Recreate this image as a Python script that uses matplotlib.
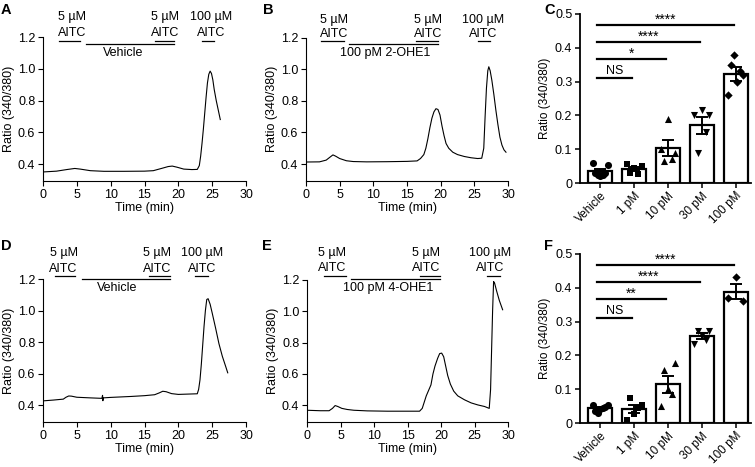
import matplotlib
matplotlib.use("Agg")
import matplotlib.pyplot as plt
import numpy as np

plt.rcParams['font.family'] = ['Liberation Sans Narrow', 'Liberation Sans', 'DejaVu Sans']
plt.rcParams['font.size'] = 8

# --- calcium traces (time in min, ratio 340/380) ---
a_t = [0, 2, 3.5, 4.7, 5.5, 7, 9, 12, 15, 16.3, 17.5, 18.5, 19.1, 19.8, 20.8, 22, 22.8,
       23.1, 23.3, 23.5, 23.7, 23.9, 24.1, 24.3, 24.5, 24.7, 24.9, 25.1, 25.3, 25.6, 25.9, 26.2]
a_r = [0.35, 0.355, 0.365, 0.372, 0.368, 0.358, 0.354, 0.354, 0.355, 0.358, 0.372, 0.384, 0.387,
       0.38, 0.368, 0.365, 0.366, 0.39, 0.45, 0.53, 0.62, 0.72, 0.82, 0.91, 0.965, 0.985, 0.97,
       0.93, 0.87, 0.8, 0.74, 0.68]

b_t = [0, 2, 3, 3.6, 4.0, 4.4, 5, 6, 7, 9, 12, 15, 16.5, 17, 17.5, 17.8, 18.1, 18.4, 18.7, 19.0,
       19.3, 19.6, 19.9, 20.2, 20.5, 20.8, 21.2, 21.8, 22.5, 23.5, 24.5, 25.5, 26.1, 26.4, 26.6,
       26.8, 27.0, 27.15, 27.35, 27.6, 27.9, 28.2, 28.5, 28.8, 29.1, 29.4, 29.7]
b_r = [0.413, 0.414, 0.425, 0.445, 0.458, 0.45, 0.435, 0.421, 0.416, 0.414, 0.415, 0.417, 0.42,
       0.435, 0.46, 0.5, 0.56, 0.63, 0.69, 0.73, 0.75, 0.745, 0.71, 0.64, 0.58, 0.53, 0.5, 0.475,
       0.46, 0.448, 0.44, 0.435, 0.437, 0.5, 0.7, 0.88, 0.99, 1.015, 0.99, 0.93, 0.84, 0.74, 0.65,
       0.57, 0.52, 0.49, 0.475]

d_t = [0, 1.5, 3.0, 3.4, 3.8, 4.2, 5, 7, 8.7, 8.8, 8.85, 8.9, 10, 13, 15, 16.5, 17.2, 17.7, 18.2,
       19, 20, 22.8, 23.0, 23.2, 23.4, 23.6, 23.8, 24.0, 24.2, 24.4, 24.7, 25, 25.5, 26, 26.5, 27, 27.3]
d_r = [0.427, 0.432, 0.438, 0.45, 0.458, 0.457, 0.45, 0.446, 0.443, 0.462, 0.428, 0.446, 0.449,
       0.455, 0.46, 0.466, 0.478, 0.488, 0.485, 0.473, 0.468, 0.472, 0.5, 0.56, 0.66, 0.78, 0.9,
       1.0, 1.07, 1.075, 1.04, 0.985, 0.89, 0.79, 0.71, 0.645, 0.605]

e_t = [0, 2, 3.3, 3.8, 4.2, 4.6, 5.2, 6, 7, 9, 12, 15, 16.8, 17.2, 17.5, 17.8, 18.1, 18.5, 18.8,
       19.1, 19.5, 19.8, 20.1, 20.4, 20.7, 21.0, 21.4, 21.9, 22.5, 23.5, 24.5, 25.5, 26.5, 27.2,
       27.4, 27.55, 27.7, 27.85, 28.0, 28.3, 28.7, 29.2]
e_r = [0.368, 0.365, 0.365, 0.38, 0.398, 0.392, 0.38, 0.373, 0.368, 0.364, 0.362, 0.362, 0.362,
       0.38, 0.42, 0.46, 0.49, 0.53, 0.6, 0.65, 0.7, 0.73, 0.733, 0.71, 0.65, 0.59, 0.535, 0.49,
       0.46, 0.435, 0.415, 0.402, 0.392, 0.38, 0.5, 0.75, 1.0, 1.19, 1.18, 1.13, 1.07, 1.01]

# --- dose response bars ---
groups = ['Vehicle', '1 pM', '10 pM', '30 pM', '100 pM']
c_mean = [0.036, 0.041, 0.103, 0.171, 0.322]
c_sem = [0.004, 0.005, 0.024, 0.025, 0.021]
c_pts = [[0.06, 0.03, 0.025, 0.022, 0.025, 0.03, 0.052],
         [0.055, 0.03, 0.045, 0.028, 0.05],
         [0.1, 0.065, 0.19, 0.072, 0.088],
         [0.2, 0.09, 0.215, 0.15, 0.2],
         [0.26, 0.35, 0.38, 0.3, 0.33, 0.32]]
c_sig = ['NS', '*', '****', '****']

f_mean = [0.043, 0.042, 0.114, 0.257, 0.388]
f_sem = [0.003, 0.011, 0.024, 0.008, 0.022]
f_pts = [[0.052, 0.035, 0.03, 0.04, 0.045, 0.048, 0.052],
         [0.01, 0.073, 0.028, 0.045, 0.053],
         [0.05, 0.158, 0.1, 0.085, 0.178],
         [0.235, 0.272, 0.26, 0.245, 0.272],
         [0.37, 0.432, 0.362]]
f_sig = ['NS', '**', '****', '****']
sig_y = [0.31, 0.366, 0.416, 0.467]

markers = ['o', 's', '^', 'v', 'D']
msizes = [26, 24, 26, 26, 18]

fig = plt.figure(figsize=(7.55, 4.67), dpi=100)
W, H = 755, 467
FS = 9


def rect(l, t, r, b):
    return [l / W, 1 - b / H, (r - l) / W, (b - t) / H]


def trace(ax, t, r, notes, drug):
    ax.plot(t, r, color='black', lw=0.8)
    ax.set_xlim(0, 30)
    ax.set_ylim(0.293, 1.2)
    ax.set_xticks(range(0, 31, 5))
    ax.set_yticks([0.4, 0.6, 0.8, 1.0, 1.2])
    ax.set_yticklabels(['0.4', '0.6', '0.8', '1.0', '1.2'])
    for s in ['top', 'right']:
        ax.spines[s].set_visible(False)
    for s in ['left', 'bottom']:
        ax.spines[s].set_linewidth(0.8)
    ax.tick_params(direction='out', length=3.5, width=0.8, labelsize=FS, pad=2)
    ax.set_xlabel('Time (min)', fontsize=FS, labelpad=1)
    ax.set_ylabel('Ratio (340/380)', fontsize=FS, labelpad=2)
    # stimulus bars
    for xc, x0, x1, y_top, y_bot, y_line, top in notes:
        ax.text(xc, y_top, top, ha='center', va='center', fontsize=FS, clip_on=False)
        ax.text(xc, y_bot, 'AITC', ha='center', va='center', fontsize=FS, clip_on=False)
        ax.plot([x0, x1], [y_line, y_line], color='black', lw=0.9, clip_on=False)
    name, xc, x0, x1, y_line, y_text = drug
    ax.plot([x0, x1], [y_line, y_line], color='black', lw=0.9, clip_on=False)
    ax.text(xc, y_text, name, ha='center', va='center', fontsize=FS, clip_on=False)


def bars(ax, mean, sem, pts, sig):
    x = np.arange(len(groups))
    ax.bar(x, mean, width=0.7, color='white', edgecolor='black', linewidth=1.6, zorder=2)
    for i, vals in enumerate(pts):
        n = len(vals)
        off = np.linspace(-0.22, 0.22, n) if n > 1 else [0]
        ax.scatter(x[i] + np.asarray(off), vals, marker=markers[i], s=msizes[i], color='black',
                   zorder=3, linewidths=0)
    ax.errorbar(x, mean, yerr=sem, fmt='none', ecolor='black', elinewidth=1.4,
                capsize=4, capthick=1.4, zorder=4)
    for k, (lab, y) in enumerate(zip(sig, sig_y)):
        x1 = k + 1 - 0.05
        ax.plot([-0.1, x1], [y, y], color='black', lw=1.6)
        xc = (-0.1 + x1) / 2
        if lab == 'NS':
            ax.text(xc, y + 0.022, lab, ha='center', va='center', fontsize=FS)
        else:
            ax.text(xc, y + 0.004, lab, ha='center', va='baseline', fontsize=10,
                    family='Liberation Sans')
    ax.set_xlim(-0.6, 4.45)
    ax.set_ylim(0, 0.5)
    ax.set_yticks([0, 0.1, 0.2, 0.3, 0.4, 0.5])
    ax.set_yticklabels(['0', '0.1', '0.2', '0.3', '0.4', '0.5'])
    ax.set_xticks(x)
    ax.set_xticklabels(groups, rotation=45, ha='right', rotation_mode='anchor', fontsize=8.5)
    for s in ['top', 'right']:
        ax.spines[s].set_visible(False)
    for s in ['left', 'bottom']:
        ax.spines[s].set_linewidth(1.3)
    ax.tick_params(direction='out', length=3.5, width=1.1, labelsize=FS, pad=2)
    ax.tick_params(axis='x', labelsize=8.5, pad=1.5)
    ax.set_ylabel('Ratio (340/380)', fontsize=8.5, labelpad=3)


axA = fig.add_axes(rect(43, 37, 246, 181))
trace(axA, a_t, a_r,
      [(4.3, 2.4, 5.4, 1.326, 1.225, 1.175, '5 µM'),
       (18.05, 16.5, 19.4, 1.326, 1.225, 1.175, '5 µM'),
       (24.8, 23.5, 25.3, 1.326, 1.225, 1.175, '100 µM')],
      ('Vehicle', 11.9, 6.4, 19.4, 1.156, 1.10))

axB = fig.add_axes(rect(306, 37.5, 508, 181))
trace(axB, b_t, b_r,
      [(4.2, 2.3, 5.6, 1.313, 1.219, 1.175, '5 µM'),
       (18.1, 16.4, 19.6, 1.313, 1.219, 1.175, '5 µM'),
       (26.3, 25.6, 27.4, 1.313, 1.219, 1.175, '100 µM')],
      ('100 pM 2-OHE1', 11.7, 6.4, 19.6, 1.162, 1.105))

axD = fig.add_axes(rect(43, 279, 246, 422))
trace(axD, d_t, d_r,
      [(3.05, 1.7, 4.8, 1.363, 1.264, 1.221, '5 µM'),
       (16.8, 15.6, 18.8, 1.363, 1.264, 1.221, '5 µM'),
       (23.5, 22.5, 24.4, 1.363, 1.264, 1.221, '100 µM')],
      ('Vehicle', 10.9, 5.7, 18.8, 1.202, 1.141))

axE = fig.add_axes(rect(307, 280, 508, 422))
trace(axE, e_t, e_r,
      [(3.8, 2.6, 5.8, 1.37, 1.274, 1.225, '5 µM'),
       (17.8, 16.8, 19.9, 1.37, 1.274, 1.225, '5 µM'),
       (27.3, 26.8, 28.8, 1.37, 1.274, 1.225, '100 µM')],
      ('100 pM 4-OHE1', 12.1, 6.6, 19.9, 1.206, 1.147))

axC = fig.add_axes(rect(580, 14, 751, 183))
bars(axC, c_mean, c_sem, c_pts, c_sig)

axF = fig.add_axes(rect(580, 254, 751, 423))
bars(axF, f_mean, f_sem, f_pts, f_sig)

for lab, px, py in [('A', 1, 3), ('B', 263, 3), ('C', 544, 3),
                    ('D', 1, 239), ('E', 262, 239), ('F', 544, 239)]:
    fig.text(px / W, 1 - py / H, lab, ha='left', va='top', fontsize=10.5, fontweight='bold',
             family='Liberation Sans')

fig.savefig('out.png', dpi=100)
